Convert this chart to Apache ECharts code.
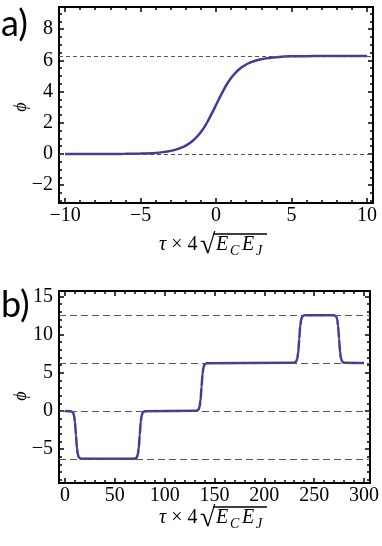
<!DOCTYPE html>
<html lang="en">
<head>
    <meta charset="UTF-8">
    <title>phi</title>
    <script src="https://cdn.jsdelivr.net/npm/echarts@6/dist/echarts.min.js"></script>
    <style>
        html, body { margin: 0; padding: 0; background: #fff; }
        #main { width: 382px; height: 546px; }
    </style>
</head>
<body>
    <div id="main"></div>
    <script>
        // panel a) single kink
        var aTau = [-10, -8, -7, -6, -5, -4, -3.5, -3, -2.5, -2.25, -2, -1.75, -1.5, -1.25, -1, -0.75, -0.5, -0.25, 0,
            0.25, 0.5, 0.75, 1, 1.25, 1.5, 1.75, 2, 2.25, 2.5, 3, 3.5, 4, 5, 6, 7, 8, 10];
        var aPhi = [0, 0, 0, 0.01, 0.03, 0.07, 0.12, 0.2, 0.33, 0.42, 0.54, 0.69, 0.88, 1.12, 1.41, 1.76, 2.18, 2.65, 3.14,
            3.63, 4.1, 4.52, 4.87, 5.16, 5.4, 5.59, 5.74, 5.86, 5.95, 6.08, 6.16, 6.21, 6.26, 6.27, 6.28, 6.28, 6.28];

        // panel b) kinks / antikinks in time
        var bTau = [0, 6, 8, 9, 10, 11, 12, 13, 14, 16, 70, 72, 73, 74, 75, 76, 77, 78, 80,
            132, 134, 135, 136, 137, 138, 139, 140, 142, 230, 232, 233, 234, 235, 236, 237, 238, 240,
            270, 272, 273, 274, 275, 276, 277, 278, 280, 300];
        var bPhi = [0, -0.03, -0.2, -0.54, -1.41, -3.14, -4.87, -5.74, -6.08, -6.25,
            -6.25, -6.08, -5.74, -4.87, -3.14, -1.41, -0.54, -0.2, -0.03,
            0.03, 0.2, 0.54, 1.41, 3.14, 4.87, 5.74, 6.08, 6.25,
            6.31, 6.48, 6.82, 7.69, 9.42, 11.15, 12.02, 12.36, 12.53,
            12.54, 12.37, 12.03, 11.16, 9.42, 7.69, 6.82, 6.48, 6.31, 6.28];

        var aLevels = [0, 6.28];
        var bLevels = [-6.28, 0, 6.28, 12.57];

        var aXTicks = [-10, -5, 0, 5, 10];
        var aYTicks = [-2, 0, 2, 4, 6, 8];
        var bXTicks = [0, 50, 100, 150, 200, 250, 300];
        var bYTicks = [-5, 0, 5, 10, 15];

        var lineColor = '#3d3d99';
        var serif = 'Liberation Serif';

        // minor tick positions between min and max
        function minors(min, max, step) {
            var out = [];
            var v = Math.ceil(min / step) * step;
            for (; v <= max + 1e-9; v += step) out.push(+v.toFixed(4));
            return out;
        }

        function fmt(v) {
            return String(v).replace('-', '\u2212');
        }

        // 4 axes for one direction: main (labels + major), minor, opposite major, opposite minor
        function axesFor(dir, grid, min, max, major, minor) {
            var posA = dir === 'x' ? 'bottom' : 'left';
            var posB = dir === 'x' ? 'top' : 'right';
            var list = [];
            [[posA, major, 5, true], [posA, minor, 3, false], [posB, major, 5, false], [posB, minor, 3, false]].forEach(function (c) {
                list.push({
                    type: 'value',
                    gridIndex: grid,
                    position: c[0],
                    min: min,
                    max: max,
                    axisLine: { show: false, onZero: false },
                    splitLine: { show: false },
                    axisTick: {
                        show: true, inside: true, length: c[2],
                        customValues: c[1],
                        lineStyle: { color: '#000', width: 1.5 }
                    },
                    axisLabel: {
                        show: c[3],
                        customValues: c[1],
                        formatter: fmt,
                        color: '#000',
                        fontFamily: serif,
                        fontSize: 20,
                        margin: dir === 'x' ? 3 : 6
                    }
                });
            });
            return list;
        }

        function levelLines(levels, dash) {
            return {
                silent: true,
                symbol: 'none',
                label: { show: false },
                lineStyle: { color: '#555', width: 1, type: dash },
                data: levels.map(function (v) { return { yAxis: v }; })
            };
        }

        function zip(xs, ys) {
            return xs.map(function (x, i) { return [x, ys[i]]; });
        }

        // axis title tau x 4 sqrt(E_C E_J)
        function xTitle(y) {
            return [
                { type: 'text', x: 159, y: y, style: { text: '{i|τ}{n| × 4}', verticalAlign: 'middle',
                    rich: { i: { fontFamily: serif, fontStyle: 'italic', fontSize: 20 }, n: { fontFamily: serif, fontSize: 20 } } } },
                { type: 'text', x: 200, y: y + 1, style: { text: '√', fontFamily: serif, fontSize: 28, verticalAlign: 'middle', fill: '#000' } },
                { type: 'line', shape: { x1: 213, y1: y - 11, x2: 267, y2: y - 11 }, style: { stroke: '#000', lineWidth: 1.3 } },
                { type: 'text', x: 216, y: y, style: { text: 'E', fontFamily: serif, fontStyle: 'italic', fontSize: 20, verticalAlign: 'middle', fill: '#000' } },
                { type: 'text', x: 230, y: y + 6, style: { text: 'C', fontFamily: serif, fontStyle: 'italic', fontSize: 14, verticalAlign: 'middle', fill: '#000' } },
                { type: 'text', x: 242, y: y, style: { text: 'E', fontFamily: serif, fontStyle: 'italic', fontSize: 20, verticalAlign: 'middle', fill: '#000' } },
                { type: 'text', x: 256, y: y + 6, style: { text: 'J', fontFamily: serif, fontStyle: 'italic', fontSize: 14, verticalAlign: 'middle', fill: '#000' } }
            ];
        }

        function yTitle(y) {
            return { type: 'text', x: 21, y: y, rotation: Math.PI / 2,
                style: { text: 'ϕ', fontFamily: serif, fontStyle: 'italic', fontSize: 18, align: 'center', verticalAlign: 'middle', fill: '#000' } };
        }

        var myChart = echarts.init(document.getElementById('main'), null, { renderer: 'canvas' });

        var option = {
            animation: false,
            backgroundColor: '#fff',
            grid: [
                { left: 59, top: 7, width: 314, height: 196, show: true, borderColor: '#000', borderWidth: 2, backgroundColor: 'transparent', outerBoundsMode: 'none' },
                { left: 59, top: 291, width: 311, height: 192, show: true, borderColor: '#000', borderWidth: 2, backgroundColor: 'transparent', outerBoundsMode: 'none' }
            ],
            xAxis: axesFor('x', 0, -10.4, 10.4, aXTicks, minors(-10.4, 10.4, 1))
                .concat(axesFor('x', 1, -6, 306, bXTicks, minors(-6, 306, 10))),
            yAxis: axesFor('y', 0, -3.1416, 9.4248, aYTicks, minors(-3.1416, 9.4248, 0.5))
                .concat(axesFor('y', 1, -9.4248, 15.708, bYTicks, minors(-9.4248, 15.708, 1))),
            series: [
                {
                    type: 'line', xAxisIndex: 0, yAxisIndex: 0,
                    data: zip(aTau, aPhi),
                    showSymbol: false, smooth: 0.2,
                    lineStyle: { color: lineColor, width: 2.5 },
                    markLine: levelLines(aLevels, [4, 3]),
                    z: 3
                },
                {
                    type: 'line', xAxisIndex: 4, yAxisIndex: 4,
                    data: zip(bTau, bPhi),
                    showSymbol: false, smooth: 0.3, smoothMonotone: 'x',
                    lineStyle: { color: lineColor, width: 2.5 },
                    markLine: levelLines(bLevels, [7, 4]),
                    z: 3
                }
            ],
            graphic: [
                { type: 'text', x: 1, y: 24, style: { text: 'a)', fontFamily: 'Lato', fontSize: 36, verticalAlign: 'middle', fill: '#000' } },
                { type: 'text', x: 1, y: 305, style: { text: 'b)', fontFamily: 'Lato', fontSize: 36, verticalAlign: 'middle', fill: '#000' } },
                yTitle(107),
                yTitle(396)
            ].concat(xTitle(245)).concat(xTitle(518))
        };

        myChart.setOption(option);
        window.onresize = myChart.resize;
    </script>
</body>
</html>
